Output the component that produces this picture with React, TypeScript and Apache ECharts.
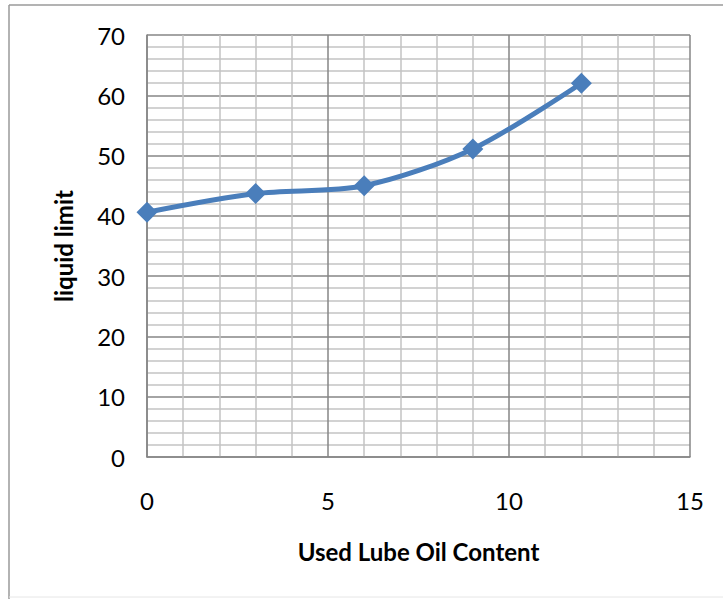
import React, { useEffect, useRef } from "react";
import * as echarts from "echarts";

const xValues = [0, 3, 6, 9, 12];
const liquidLimit = [40.6, 43.7, 45.0, 51.1, 62.0];
const xAxisName = "Used Lube Oil Content";
const yAxisName = "liquid limit";

export default function App() {
  const ref = useRef<HTMLDivElement>(null);
  useEffect(() => {
    document.body.style.margin = "0";
    const chart = echarts.init(ref.current!, undefined, { renderer: "svg" });
    const font = "Lato, 'Open Sans', sans-serif";
    chart.setOption({
      animation: false,
      backgroundColor: "#ffffff",
      grid: { left: 147, right: 33, top: 35, bottom: 142, containLabel: false },
      graphic: [
        { type: "line", shape: { x1: 9, y1: 5, x2: 723, y2: 5 }, style: { stroke: "#9a9a9a", lineWidth: 1.5 } },
        { type: "line", shape: { x1: 9, y1: 5, x2: 9, y2: 599 }, style: { stroke: "#9a9a9a", lineWidth: 1.5 } },
        { type: "line", shape: { x1: 9, y1: 597, x2: 723, y2: 597 }, style: { stroke: "#e6e6e6", lineWidth: 1 } },
      ],
      xAxis: {
        type: "value",
        min: 0,
        max: 15,
        interval: 5,
        name: xAxisName,
        nameLocation: "middle",
        nameGap: 82,
        nameTextStyle: { fontFamily: font, fontSize: 24, fontWeight: "bold", color: "#000" },
        axisLine: { show: true, lineStyle: { color: "#868686", width: 1.5 } },
        axisTick: { show: false },
        axisLabel: { margin: 31, fontFamily: font, fontSize: 24, color: "#000" },
        splitLine: { show: true, lineStyle: { color: "#868686", width: 1.5 } },
        minorTick: { show: false, splitNumber: 5 },
        minorSplitLine: { show: true, lineStyle: { color: "#c3c3c3", width: 1.5 } },
      },
      yAxis: {
        type: "value",
        min: 0,
        max: 70,
        interval: 10,
        name: yAxisName,
        nameLocation: "middle",
        nameGap: 72,
        nameRotate: 90,
        nameTextStyle: { fontFamily: font, fontSize: 24, fontWeight: "bold", color: "#000" },
        axisLine: { show: true, lineStyle: { color: "#868686", width: 1.5 } },
        axisTick: { show: false },
        axisLabel: { margin: 22, fontFamily: font, fontSize: 24, color: "#000" },
        splitLine: { show: true, lineStyle: { color: "#868686", width: 1.5 } },
        minorTick: { show: false, splitNumber: 5 },
        minorSplitLine: { show: true, lineStyle: { color: "#c3c3c3", width: 1.5 } },
      },
      series: [
        {
          type: "line",
          data: xValues.map((x, i) => [x, liquidLimit[i]]),
          smooth: 0.3,
          symbol: "diamond",
          symbolSize: 21,
          lineStyle: { color: "#4a7ebb", width: 5 },
          itemStyle: { color: "#4a7ebb" },
        },
      ],
    });
    return () => chart.dispose();
  }, []);
  return <div ref={ref} style={{ width: 723, height: 599, position: "absolute", left: 0, top: 0 }} />;
}
